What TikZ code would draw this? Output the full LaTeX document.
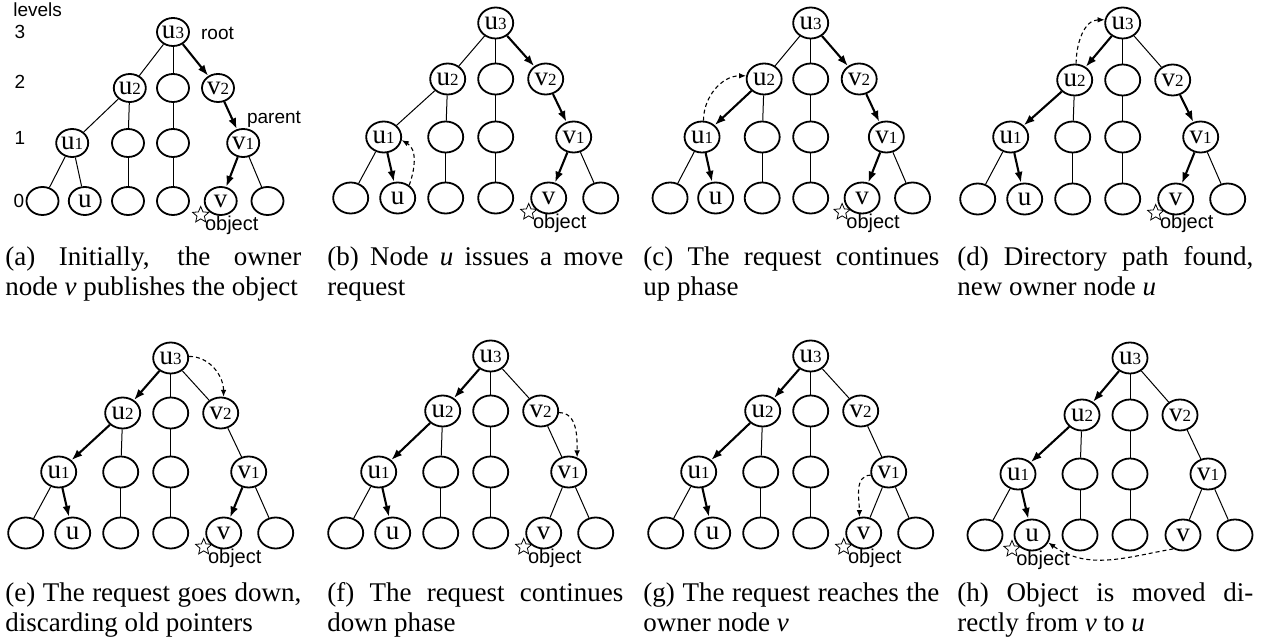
\documentclass[tikz,border=0pt]{standalone}
\usepackage{fontspec}
\setmainfont{Liberation Serif}
\newfontfamily\sansf{Liberation Sans}
\usetikzlibrary{arrows.meta,shapes.geometric}

\newcommand\lb[2]{#1{\fontsize{8.5}{8.5}\selectfont #2}}
\newcommand\capt[2]{\parbox[t]{148pt}{\fontsize{13.5}{15}\selectfont\makebox[148pt][s]{#1}\\#2}}

\tikzset{
 tn/.style={ellipse, draw, line width=0.9pt, minimum width=17.5pt, minimum height=15.5pt, inner sep=0pt, font=\fontsize{13.5}{13.5}\selectfont},
 tna/.style={tn, minimum width=16pt, minimum height=14pt},
 tl/.style={line width=0.5pt},
 ba/.style={line width=1.05pt, -{Latex[length=5.5pt,width=4pt]}},
 da/.style={dash pattern=on 2pt off 1.5pt, line width=0.55pt, -{Latex[length=3.5pt,width=2.8pt]}},
 sl/.style={font=\sansf\fontsize{9.5}{9.5}\selectfont, inner sep=0pt},
 ol/.style={font=\sansf\fontsize{10}{10}\selectfont, inner sep=0pt},
 obj/.style={star, star points=5, star point ratio=2.2, draw, line width=0.4pt, minimum size=8.5pt, inner sep=0pt},
 captn/.style={anchor=base west, inner sep=0pt},
}

% #1 prefix, #2 root x, #3 root y (down), #4 x scale, #5 #6 #7 level offsets, #8 node style
\newcommand\mktree[8]{%
 \node[#8] (#1r)  at (#2,{-(#3)}) {\lb{u}{3}};
 \node[#8] (#1a2) at ({#2-48*#4},{-(#3+#5)}) {\lb{u}{2}};
 \node[#8] (#1b2) at ({#2},{-(#3+#5)}) {};
 \node[#8] (#1c2) at ({#2+50*#4},{-(#3+#5)}) {\lb{v}{2}};
 \node[#8] (#1a1) at ({#2-112*#4},{-(#3+#6)}) {\lb{u}{1}};
 \node[#8] (#1b1) at ({#2-50*#4},{-(#3+#6)}) {};
 \node[#8] (#1c1) at ({#2},{-(#3+#6)}) {};
 \node[#8] (#1d1) at ({#2+78*#4},{-(#3+#6)}) {\lb{v}{1}};
 \node[#8] (#1l1) at ({#2-145*#4},{-(#3+#7)}) {};
 \node[#8] (#1l2) at ({#2-98*#4},{-(#3+#7)}) {u};
 \node[#8] (#1l3) at ({#2-50*#4},{-(#3+#7)}) {};
 \node[#8] (#1l4) at ({#2},{-(#3+#7)}) {};
 \node[#8] (#1l5) at ({#2+53*#4},{-(#3+#7)}) {v};
 \node[#8] (#1l6) at ({#2+105*#4},{-(#3+#7)}) {};
}
% #1 prefix; styles of r-u2, r-v2, u2-u1, u1-u, v2-v1, v1-v
\newcommand\mkedges[7]{%
 \draw[#2] (#1r) -- (#1a2);
 \draw[tl] (#1r) -- (#1b2);
 \draw[#3] (#1r) -- (#1c2);
 \draw[#4] (#1a2) -- (#1a1);
 \draw[tl] (#1a2) -- (#1b1);
 \draw[tl] (#1b2) -- (#1c1);
 \draw[#6] (#1c2) -- (#1d1);
 \draw[tl] (#1a1) -- (#1l1);
 \draw[#5] (#1a1) -- (#1l2);
 \draw[tl] (#1b1) -- (#1l3);
 \draw[tl] (#1c1) -- (#1l4);
 \draw[#7] (#1d1) -- (#1l5);
 \draw[tl] (#1d1) -- (#1l6);
}
\newcommand\mkobj[2]{%
 \node[obj] (#1star) at ([shift={(-20,-14)}]#2.center) {};
 \node[ol, anchor=base] (#1obj) at ([shift={(11,-30)}]#2.center) {object};
}

\begin{document}
\begin{tikzpicture}[x=0.5pt,y=0.5pt]
\useasboundingbox (0,0) rectangle (1266,-642);

% (a)
\mktree{a}{173}{32}{0.9}{56}{111}{169}{tna}
\mkedges{a}{tl}{ba}{tl}{tl}{ba}{ba}
\mkobj{a}{al5}
\node[sl, anchor=base west] (lev) at (13,-17) {levels};
\node[sl] (lv3) at (20,-32) {3};
\node[sl] (lv2) at (20,-82) {2};
\node[sl] (lv1) at (20,-138) {1};
\node[sl] (lv0) at (19,-201) {0};
\node[sl] (rootlab) at (217.5,-33) {root};
\node[sl] (parlab) at (274,-119) {parent};

% (b)
\mktree{b}{495.7}{23}{1}{56}{114}{175}{tn}
\mkedges{b}{tl}{ba}{tl}{ba}{ba}{ba}
\mkobj{b}{bl5}
\draw[da] (bl2.48) to[out=70, in=-30] (ba1.-10);

% (c)
\mktree{c}{810.7}{23}{0.97}{56}{114}{175}{tn}
\mkedges{c}{tl}{ba}{ba}{ba}{ba}{ba}
\mkobj{c}{cl5}
\draw[da] (ca1.85) to[out=90, in=180] (ca2.170);

% (d)
\mktree{d}{1122.7}{23}{1}{57}{114}{176}{tn}
\mkedges{d}{ba}{tl}{ba}{ba}{ba}{ba}
\mkobj{d}{dl5}
\draw[da] (da2.85) to[out=90, in=180] (dr.170);

% (e)
\mktree{e}{170.7}{358}{1}{55}{114}{175}{tn}
\mkedges{e}{ba}{tl}{ba}{ba}{tl}{ba}
\mkobj{e}{el5}
\draw[da] (er.5) to[out=0, in=90] (ec2.80);

% (f)
\mktree{f}{490.7}{356}{1}{55}{116}{177}{tn}
\mkedges{f}{ba}{tl}{ba}{ba}{tl}{tl}
\mkobj{f}{fl5}
\draw[da] (fc2.-5) to[out=0, in=90] (fd1.60);

% (g)
\mktree{g}{810.7}{356}{1}{55}{116}{177}{tn}
\mkedges{g}{ba}{tl}{ba}{ba}{tl}{tl}
\mkobj{g}{gl5}
\draw[da] (gd1.190) to[out=180, in=90] (gl5.105);

% (h)
\mktree{h}{1130}{358}{1}{57}{116}{177}{tn}
\mkedges{h}{ba}{tl}{ba}{ba}{tl}{tl}
\mkobj{h}{hl2}
\draw[da] (hl5.235) to[out=190, in=-35] (hl2.-25);

% captions
\node[captn] (capa) at (5,-266) {\capt{(a) Initially, the owner}{node \emph{v} publishes the object}};
\node[captn] (capb) at (327,-266) {\capt{(b) Node \emph{u} issues a move}{request}};
\node[captn] (capc) at (643,-266) {\capt{(c) The request continues}{up phase}};
\node[captn] (capd) at (957,-266) {\capt{(d) Directory path found,}{new owner node \emph{u}}};
\node[captn] (cape) at (5,-601) {\capt{(e) The request goes down,}{discarding old pointers}};
\node[captn] (capf) at (327,-601) {\capt{(f) The request continues}{down phase}};
\node[captn] (capg) at (643,-601) {\capt{(g) The request reaches the}{owner node \emph{v}}};
\node[captn] (caph) at (957,-601) {\capt{(h) Object is moved di-}{rectly from \emph{v} to \emph{u}}};
\end{tikzpicture}
\end{document}
